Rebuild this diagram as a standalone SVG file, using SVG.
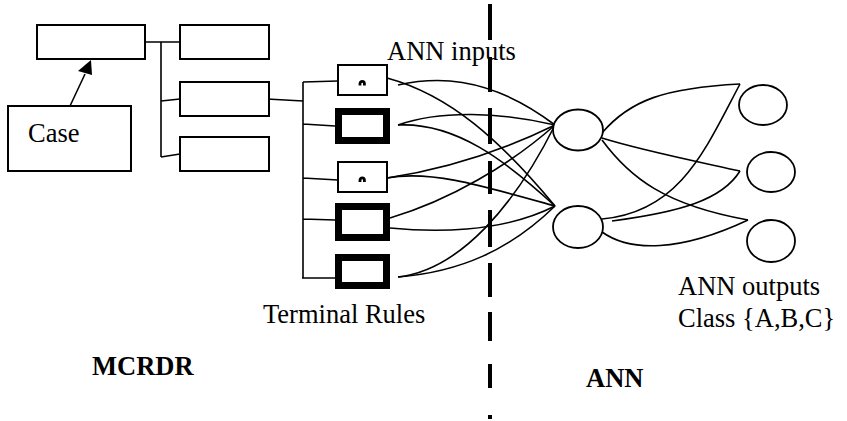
<svg xmlns="http://www.w3.org/2000/svg" width="847" height="421" viewBox="0 0 847 421">
<style>
.box{fill:#fff;stroke:#000;stroke-width:2}
.thick{fill:#fff;stroke:#000;stroke-width:7}
.ln{fill:none;stroke:#000;stroke-width:1.6}
.node{fill:#fff;stroke:#000;stroke-width:1.8}
.t{font-family:"Liberation Serif","Times New Roman",serif;font-size:26.5px;fill:#000}
.b{font-weight:bold}
.dash{fill:none;stroke:#000;stroke-width:4}
.mark{fill:none;stroke:#000;stroke-width:2.8}
</style>
<rect width="847" height="421" fill="#fff"/>
<g id="connectors">
<path class="ln" d="M145,42 H180 M161,42 V157 M161,101 L180,99 M161,157 L180,154"/>
<path class="ln" d="M267,99 L303,101 M303,82 V278 M303,82 L338,81 M303,124 L335,126 M303,178 L338,180 M303,219 L335,220 M302,278 L335,278"/>
<path class="ln" d="M70,106 L85,74"/>
<polygon points="91,60 78,71 92,75" fill="#000"/>
<path class="ln" d="M387,78 C450,95 500,140 555,206"/>
<path class="ln" d="M398,85 C430,78 485,72 555,125"/>
<path class="ln" d="M398,125 C440,110 500,112 555,125"/>
<path class="ln" d="M398,125 C455,122 505,160 555,206"/>
<path class="ln" d="M387,178 C440,170 500,152 555,125"/>
<path class="ln" d="M387,178 C430,170 480,185 555,206"/>
<path class="ln" d="M390,218 C450,200 510,165 555,125"/>
<path class="ln" d="M390,228 C430,232 500,234 555,206"/>
<path class="ln" d="M398,277 C460,270 515,205 555,125"/>
<path class="ln" d="M398,277 C460,272 510,250 555,206"/>
<path class="ln" d="M602,133 C630,100 665,88 740,84"/>
<path class="ln" d="M602,138 C640,150 690,160 740,171"/>
<path class="ln" d="M602,140 C630,178 665,205 748,220"/>
<path class="ln" d="M602,232 C630,252 680,252 748,220"/>
<path class="ln" d="M602,219 C680,212 705,150 740,84"/>
<path class="ln" d="M612,221 C680,212 722,200 740,171"/>
</g>
<path id="divider" class="dash" d="M490,4 V40 M490,57 V92 M490,108 V144 M490,161 V194 M490,210 V247 M490,263 V297 M490,312 V341 M490,364 V388 M490,415 V419"/>
<g id="root"><rect class="box" x="37" y="25" width="108" height="34"/></g>
<g id="case"><rect class="box" x="8" y="106" width="123" height="65"/><text class="t" x="28" y="142">Case</text></g>
<g id="rule1"><rect class="box" x="180" y="25" width="89" height="34"/></g>
<g id="rule2"><rect class="box" x="180" y="82" width="89" height="34"/></g>
<g id="rule3"><rect class="box" x="180" y="137" width="89" height="34"/></g>
<g id="t1"><rect class="box" x="338" y="65" width="49" height="30"/><path class="mark" d="M360,85.5 V83.5 A2.2,2.2 0 0 1 364.4,83.5 V85.5"/></g>
<g id="t2"><rect class="thick" x="338.5" y="111.5" width="48" height="29"/></g>
<g id="t3"><rect class="box" x="338" y="162" width="49" height="30"/><path class="mark" d="M360,182 V180 A2.2,2.2 0 0 1 364.4,180 V182"/></g>
<g id="t4"><rect class="thick" x="338.5" y="206.5" width="48" height="31"/></g>
<g id="t5"><rect class="thick" x="338.5" y="257.5" width="48" height="28"/></g>
<g id="h1"><ellipse class="node" cx="578" cy="130" rx="25" ry="20.5"/></g>
<g id="h2"><ellipse class="node" cx="578" cy="227" rx="25" ry="21"/></g>
<g id="o1"><ellipse class="node" cx="763" cy="105" rx="24" ry="20"/></g>
<g id="o2"><ellipse class="node" cx="771" cy="172" rx="24" ry="20"/></g>
<g id="o3"><ellipse class="node" cx="771" cy="241" rx="24" ry="21"/></g>
<g id="labels">
<text class="t" x="387" y="60">ANN inputs</text>
<text class="t" x="263" y="323">Terminal Rules</text>
<text class="t" x="678" y="295">ANN outputs</text>
<text class="t" x="678" y="327">Class {A,B,C}</text>
<text class="t b" x="92" y="375">MCRDR</text>
<text class="t b" x="586" y="387">ANN</text>
</g>
</svg>
